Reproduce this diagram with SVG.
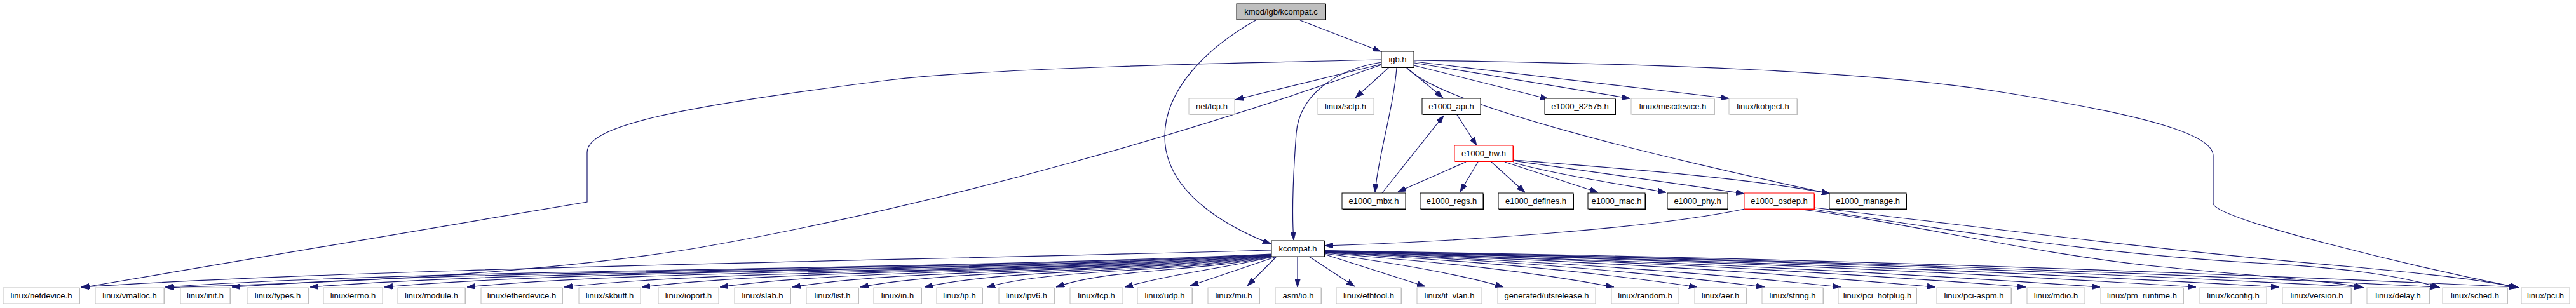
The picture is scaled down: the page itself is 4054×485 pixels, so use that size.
<svg xmlns="http://www.w3.org/2000/svg" width="4054" height="485" viewBox="0 0 4054 485">
<defs>
<marker id="a" markerUnits="userSpaceOnUse" markerWidth="13" markerHeight="9" viewBox="0 0 13 9" refX="13" refY="4.5" orient="auto">
<path d="M0,0 L13,4.5 L0,9 z" fill="#191970" stroke="#191970" stroke-width="0.8"/>
</marker>
</defs>
<style>
text{font-family:"Liberation Sans",Arial,Helvetica,sans-serif;font-size:13px;text-anchor:middle;fill:#000}
rect.b{fill:#fff;stroke-width:1}
.int rect.b{stroke:#000}.int rect.s{fill:#000}
.ext rect.b{stroke:#bfbfbf}.ext rect.s{fill:#bfbfbf}
.red rect.b{stroke:#ff0000}.red rect.s{fill:#ff0000}
.root rect.b{fill:#bfbfbf;stroke:#000}.root rect.s{fill:#000}
.e path{fill:none;stroke:#191970;stroke-width:1.2;marker-end:url(#a)}
</style>
<rect width="4054" height="485" fill="#fff"/>
<g class="e" id="edges">
<path d="M2046,32 L2173,81"/>
<path d="M1976,32 C1900,75 1833,140 1833,215 C1833,300 1925,355 2000,384"/>
<path d="M2174,101 L1944,157"/>
<path d="M2186,106 L2133,154"/>
<path d="M2213,106 L2271,154"/>
<path d="M2198,107 C2193,170 2168,250 2164,303"/>
<path d="M2174,98 C2100,110 2045,150 2040,210 C2034,290 2033,340 2036,378"/>
<path d="M2174,94 C1900,100 1550,108 1400,126 C1050,170 924,200 924,240 L924,318 L128,453"/>
<path d="M2174,102 C1900,200 1500,320 1100,390 C800,440 400,448 261,453"/>
<path d="M2225,103 L2437,156"/>
<path d="M2226,99 L2565,155"/>
<path d="M2226,97 L2721,155"/>
<path d="M2214,107 C2270,165 2600,245 2880,305"/>
<path d="M2226,95 C2600,100 2950,112 3150,145 C3400,185 3483,215 3483,245 L3483,320 C3483,345 3800,420 3964,453"/>
<path d="M2293,181 L2324,229"/>
<path d="M2175,304 L2272,182"/>
<path d="M2307,255 L2200,302"/>
<path d="M2326,255 L2298,302"/>
<path d="M2347,255 L2400,303"/>
<path d="M2368,255 L2515,303"/>
<path d="M2381,256 C2450,275 2550,290 2622,303"/>
<path d="M2381,253 C2500,270 2650,290 2745,305"/>
<path d="M2381,252 C2550,265 2750,280 2880,305"/>
<path d="M2746,329 C2600,360 2300,380 2085,387"/>
<path d="M2836,330 C3000,350 3200,400 3400,420 C3550,435 3650,440 3720,453"/>
<path d="M2850,329 C3050,360 3300,400 3550,414 C3700,422 3780,435 3840,453"/>
<path d="M2855,327 C3100,355 3400,395 3700,420 C3830,432 3900,440 3964,453"/>
<path d="M2001,394 C1345,412 595,422 127,452"/>
<path d="M2001,400 C1392,428 695,422 260,452"/>
<path d="M2001,400.5 C1428,429 774,422 365,452"/>
<path d="M2001,401 C1471,430 866,422 488,452"/>
<path d="M2001,401 C1512,430 954,422 605,452"/>
<path d="M2001,401.5 C1558,431 1052,422 735,452"/>
<path d="M2001,402 C1611,431 1166,422 888,452"/>
<path d="M2001,402 C1654,431 1258,422 1010,452"/>
<path d="M2001,402.5 C1697,431 1350,422 1133,452"/>
<path d="M2001,403 C1737,431 1436,422 1247,452"/>
<path d="M2001,403 C1775,431 1516,422 1354,452"/>
<path d="M2001,403.5 C1810,431 1592,422 1455,452"/>
<path d="M2001,404 C1844,430 1665,422 1553,452"/>
<path d="M2003,404 C1882,429 1747,422 1662,452"/>
<path d="M2005,404 C1940,420 1850,430 1770,452"/>
<path d="M2009,404 L1873,450"/>
<path d="M2008,405 L1963,450"/>
<path d="M2042,404 L2042,452"/>
<path d="M2060,404 L2132,451"/>
<path d="M2083,400 L2243,451"/>
<path d="M2084,399 C2200,415 2300,432 2366,452"/>
<path d="M2084,398 C2244,412 2380,422 2540,452"/>
<path d="M2084,397.5 C2289,410 2466,422 2671,452"/>
<path d="M2084,397 C2327,409 2534,422 2777,452"/>
<path d="M2084,397 C2369,409 2612,422 2897,452"/>
<path d="M2084,396.5 C2421,408 2709,422 3046,452"/>
<path d="M2084,396 C2470,408 2802,422 3188,452"/>
<path d="M2084,396 C2511,408 2878,422 3305,452"/>
<path d="M2084,395.5 C2564,407 2976,422 3456,452"/>
<path d="M2084,395.5 C2610,407 3061,422 3587,452"/>
<path d="M2084,395 C2656,406 3146,422 3718,452"/>
<path d="M2084,395 C2698,406 3224,422 3838,452"/>
<path d="M2084,394.5 C2741,405 3305,422 3962,452"/>
</g>
<g id="root" class="root"><rect class="s" x="1947" y="7" width="140" height="25"/><rect class="b" x="1946" y="6" width="140" height="25"/><text x="2016" y="23">kmod/igb/kcompat.c</text></g>
<g id="igb" class="int"><rect class="s" x="2175" y="82" width="51" height="25"/><rect class="b" x="2174" y="81" width="51" height="25"/><text x="2199.5" y="98">igb.h</text></g>
<g id="nettcp" class="ext"><rect class="s" x="1872" y="156" width="72" height="25"/><rect class="b" x="1871" y="155" width="72" height="25"/><text x="1907" y="172">net/tcp.h</text></g>
<g id="sctp" class="ext"><rect class="s" x="2074" y="156" width="89" height="25"/><rect class="b" x="2073" y="155" width="89" height="25"/><text x="2117.5" y="172">linux/sctp.h</text></g>
<g id="api" class="int"><rect class="s" x="2239" y="156" width="92" height="25"/><rect class="b" x="2238" y="155" width="92" height="25"/><text x="2284" y="172">e1000_api.h</text></g>
<g id="e82575" class="int"><rect class="s" x="2432" y="156" width="111" height="25"/><rect class="b" x="2431" y="155" width="111" height="25"/><text x="2486.5" y="172">e1000_82575.h</text></g>
<g id="misc" class="ext"><rect class="s" x="2568" y="156" width="131" height="25"/><rect class="b" x="2567" y="155" width="131" height="25"/><text x="2632.5" y="172">linux/miscdevice.h</text></g>
<g id="kobject" class="ext"><rect class="s" x="2722" y="156" width="107" height="25"/><rect class="b" x="2721" y="155" width="107" height="25"/><text x="2774.5" y="172">linux/kobject.h</text></g>
<g id="hw" class="red"><rect class="s" x="2290" y="230" width="92" height="25"/><rect class="b" x="2289" y="229" width="92" height="25"/><text x="2335" y="246">e1000_hw.h</text></g>
<g id="mbx" class="int"><rect class="s" x="2113" y="305" width="100" height="25"/><rect class="b" x="2112" y="304" width="100" height="25"/><text x="2162" y="321">e1000_mbx.h</text></g>
<g id="regs" class="int"><rect class="s" x="2236" y="305" width="99" height="25"/><rect class="b" x="2235" y="304" width="99" height="25"/><text x="2284.5" y="321">e1000_regs.h</text></g>
<g id="defines" class="int"><rect class="s" x="2359" y="305" width="118" height="25"/><rect class="b" x="2358" y="304" width="118" height="25"/><text x="2417" y="321">e1000_defines.h</text></g>
<g id="mac" class="int"><rect class="s" x="2500" y="305" width="90" height="25"/><rect class="b" x="2499" y="304" width="90" height="25"/><text x="2544" y="321">e1000_mac.h</text></g>
<g id="phy" class="int"><rect class="s" x="2625" y="305" width="95" height="25"/><rect class="b" x="2624" y="304" width="95" height="25"/><text x="2671.5" y="321">e1000_phy.h</text></g>
<g id="osdep" class="red"><rect class="s" x="2746" y="305" width="110" height="25"/><rect class="b" x="2745" y="304" width="110" height="25"/><text x="2800" y="321">e1000_osdep.h</text></g>
<g id="manage" class="int"><rect class="s" x="2880" y="305" width="121" height="25"/><rect class="b" x="2879" y="304" width="121" height="25"/><text x="2939.5" y="321">e1000_manage.h</text></g>
<g id="kcompath" class="int"><rect class="s" x="2002" y="380" width="83" height="25"/><rect class="b" x="2001" y="379" width="83" height="25"/><text x="2042.5" y="396">kcompat.h</text></g>
<g id="netdevice" class="ext"><rect class="s" x="6" y="454" width="120" height="25"/><rect class="b" x="5" y="453" width="120" height="25"/><text x="65" y="470">linux/netdevice.h</text></g>
<g id="vmalloc" class="ext"><rect class="s" x="151" y="454" width="108" height="25"/><rect class="b" x="150" y="453" width="108" height="25"/><text x="204" y="470">linux/vmalloc.h</text></g>
<g id="init" class="ext"><rect class="s" x="285" y="454" width="78" height="25"/><rect class="b" x="284" y="453" width="78" height="25"/><text x="323" y="470">linux/init.h</text></g>
<g id="types" class="ext"><rect class="s" x="390" y="454" width="96" height="25"/><rect class="b" x="389" y="453" width="96" height="25"/><text x="437" y="470">linux/types.h</text></g>
<g id="errno" class="ext"><rect class="s" x="510" y="454" width="93" height="25"/><rect class="b" x="509" y="453" width="93" height="25"/><text x="555.5" y="470">linux/errno.h</text></g>
<g id="module" class="ext"><rect class="s" x="627" y="454" width="106" height="25"/><rect class="b" x="626" y="453" width="106" height="25"/><text x="679" y="470">linux/module.h</text></g>
<g id="etherdevice" class="ext"><rect class="s" x="758" y="454" width="128" height="25"/><rect class="b" x="757" y="453" width="128" height="25"/><text x="821" y="470">linux/etherdevice.h</text></g>
<g id="skbuff" class="ext"><rect class="s" x="912" y="454" width="97" height="25"/><rect class="b" x="911" y="453" width="97" height="25"/><text x="959.5" y="470">linux/skbuff.h</text></g>
<g id="ioport" class="ext"><rect class="s" x="1037" y="454" width="95" height="25"/><rect class="b" x="1036" y="453" width="95" height="25"/><text x="1083.5" y="470">linux/ioport.h</text></g>
<g id="slab" class="ext"><rect class="s" x="1157" y="454" width="88" height="25"/><rect class="b" x="1156" y="453" width="88" height="25"/><text x="1200" y="470">linux/slab.h</text></g>
<g id="list" class="ext"><rect class="s" x="1270" y="454" width="82" height="25"/><rect class="b" x="1269" y="453" width="82" height="25"/><text x="1310" y="470">linux/list.h</text></g>
<g id="in" class="ext"><rect class="s" x="1376" y="454" width="75" height="25"/><rect class="b" x="1375" y="453" width="75" height="25"/><text x="1412.5" y="470">linux/in.h</text></g>
<g id="ip" class="ext"><rect class="s" x="1475" y="454" width="72" height="25"/><rect class="b" x="1474" y="453" width="72" height="25"/><text x="1510" y="470">linux/ip.h</text></g>
<g id="ipv6" class="ext"><rect class="s" x="1573" y="454" width="87" height="25"/><rect class="b" x="1572" y="453" width="87" height="25"/><text x="1615.5" y="470">linux/ipv6.h</text></g>
<g id="tcp" class="ext"><rect class="s" x="1685" y="454" width="83" height="25"/><rect class="b" x="1684" y="453" width="83" height="25"/><text x="1725.5" y="470">linux/tcp.h</text></g>
<g id="udp" class="ext"><rect class="s" x="1791" y="454" width="86" height="25"/><rect class="b" x="1790" y="453" width="86" height="25"/><text x="1833" y="470">linux/udp.h</text></g>
<g id="mii" class="ext"><rect class="s" x="1902" y="454" width="81" height="25"/><rect class="b" x="1901" y="453" width="81" height="25"/><text x="1941.5" y="470">linux/mii.h</text></g>
<g id="asmio" class="ext"><rect class="s" x="2008" y="454" width="72" height="25"/><rect class="b" x="2007" y="453" width="72" height="25"/><text x="2043" y="470">asm/io.h</text></g>
<g id="ethtool" class="ext"><rect class="s" x="2104" y="454" width="102" height="25"/><rect class="b" x="2103" y="453" width="102" height="25"/><text x="2154" y="470">linux/ethtool.h</text></g>
<g id="ifvlan" class="ext"><rect class="s" x="2231" y="454" width="102" height="25"/><rect class="b" x="2230" y="453" width="102" height="25"/><text x="2281" y="470">linux/if_vlan.h</text></g>
<g id="utsrelease" class="ext"><rect class="s" x="2358" y="454" width="154" height="25"/><rect class="b" x="2357" y="453" width="154" height="25"/><text x="2434" y="470">generated/utsrelease.h</text></g>
<g id="random" class="ext"><rect class="s" x="2537" y="454" width="106" height="25"/><rect class="b" x="2536" y="453" width="106" height="25"/><text x="2589" y="470">linux/random.h</text></g>
<g id="aer" class="ext"><rect class="s" x="2668" y="454" width="81" height="25"/><rect class="b" x="2667" y="453" width="81" height="25"/><text x="2707.5" y="470">linux/aer.h</text></g>
<g id="string" class="ext"><rect class="s" x="2774" y="454" width="96" height="25"/><rect class="b" x="2773" y="453" width="96" height="25"/><text x="2821" y="470">linux/string.h</text></g>
<g id="pcihotplug" class="ext"><rect class="s" x="2894" y="454" width="123" height="25"/><rect class="b" x="2893" y="453" width="123" height="25"/><text x="2954.5" y="470">linux/pci_hotplug.h</text></g>
<g id="pciaspm" class="ext"><rect class="s" x="3049" y="454" width="117" height="25"/><rect class="b" x="3048" y="453" width="117" height="25"/><text x="3106.5" y="470">linux/pci-aspm.h</text></g>
<g id="mdio" class="ext"><rect class="s" x="3191" y="454" width="91" height="25"/><rect class="b" x="3190" y="453" width="91" height="25"/><text x="3235.5" y="470">linux/mdio.h</text></g>
<g id="pmruntime" class="ext"><rect class="s" x="3307" y="454" width="130" height="25"/><rect class="b" x="3306" y="453" width="130" height="25"/><text x="3371" y="470">linux/pm_runtime.h</text></g>
<g id="kconfig" class="ext"><rect class="s" x="3463" y="454" width="105" height="25"/><rect class="b" x="3462" y="453" width="105" height="25"/><text x="3514.5" y="470">linux/kconfig.h</text></g>
<g id="version" class="ext"><rect class="s" x="3593" y="454" width="108" height="25"/><rect class="b" x="3592" y="453" width="108" height="25"/><text x="3646" y="470">linux/version.h</text></g>
<g id="delay" class="ext"><rect class="s" x="3726" y="454" width="98" height="25"/><rect class="b" x="3725" y="453" width="98" height="25"/><text x="3774" y="470">linux/delay.h</text></g>
<g id="sched" class="ext"><rect class="s" x="3845" y="454" width="102" height="25"/><rect class="b" x="3844" y="453" width="102" height="25"/><text x="3895" y="470">linux/sched.h</text></g>
<g id="pci" class="ext"><rect class="s" x="3969" y="454" width="76" height="25"/><rect class="b" x="3968" y="453" width="76" height="25"/><text x="4006" y="470">linux/pci.h</text></g>
</svg>
